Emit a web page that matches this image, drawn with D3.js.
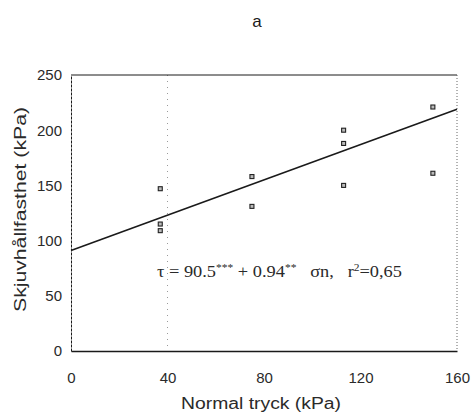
<!DOCTYPE html>
<html>
<head>
<meta charset="utf-8">
<script src="https://cdn.jsdelivr.net/npm/d3@7"></script>
<style>
  html, body { margin: 0; padding: 0; background: #fff; }
  svg { display: block; }
</style>
</head>
<body>
<svg id="chart" width="474" height="418"></svg>
<script>
// ---- data ----
const xTicks = [0, 40, 80, 120, 160];
const yTicks = [0, 50, 100, 150, 200, 250];
const normalTryck = [37, 37, 37, 75, 75, 113, 113, 113, 150, 150];
const skjuvhallfasthet = [147, 115, 109, 158, 131, 200, 188, 150, 221, 161];
const lineX = [0, 160];
const lineY = [91, 219];
const panelTitle = "a";
const xTitle = "Normal tryck (kPa)";
const yTitle = "Skjuvhållfasthet (kPa)";

// ---- layout ----
const svg = d3.select("#chart");
const L = 71, R = 457, T = 75, B = 351;
const x = d3.scaleLinear().domain([0, 160]).range([L, R]);
const y = d3.scaleLinear().domain([0, 250]).range([B, T]);
const ink = "#1a1a1a";

// title
svg.append("text").attr("x", 257).attr("y", 27)
  .attr("text-anchor", "middle")
  .attr("font-family", "Liberation Sans, Arial, sans-serif")
  .attr("font-size", 17).attr("fill", ink).text(panelTitle);

// faint dotted vertical line at x=40 (as in the scan)
svg.append("line")
  .attr("x1", x(40)).attr("x2", x(40)).attr("y1", T).attr("y2", B)
  .attr("stroke", "#9a9a9a").attr("stroke-width", 1)
  .attr("stroke-dasharray", "1,5");

// frame
svg.append("line").attr("x1", L).attr("x2", R).attr("y1", T).attr("y2", T)
  .attr("stroke", ink).attr("stroke-width", 1);
svg.append("line").attr("x1", R).attr("x2", R).attr("y1", T).attr("y2", B)
  .attr("stroke", "#666").attr("stroke-width", 1).attr("stroke-dasharray", "1,2");

// axes
const xAxis = svg.append("g").attr("transform", `translate(0,${B})`)
  .call(d3.axisBottom(x).tickValues(xTicks).tickSize(0).tickPadding(21));
const yAxis = svg.append("g").attr("transform", `translate(${L},0)`)
  .call(d3.axisLeft(y).tickValues(yTicks).tickSize(0).tickPadding(9));
[xAxis, yAxis].forEach(g => {
  g.selectAll(".domain").attr("stroke", ink).attr("stroke-width", 1);
  g.selectAll("text")
    .attr("font-family", "Liberation Sans, Arial, sans-serif")
    .attr("font-size", 15).attr("fill", "#2a2a2a");
});
xAxis.select(".domain").attr("stroke-width", 1.6);
yAxis.select(".domain").attr("stroke-dasharray", "3,1");

// axis titles
svg.append("text")
  .attr("x", 181).attr("y", 409)
  .attr("font-family", "Liberation Sans, Arial, sans-serif")
  .attr("font-size", 16).attr("fill", "#2a2a2a")
  .attr("textLength", 160).attr("lengthAdjust", "spacingAndGlyphs")
  .text(xTitle);
svg.append("text")
  .attr("transform", "translate(26,312) rotate(-90)")
  .attr("font-family", "Liberation Sans, Arial, sans-serif")
  .attr("font-size", 16).attr("fill", "#2a2a2a")
  .attr("textLength", 205).attr("lengthAdjust", "spacingAndGlyphs")
  .text(yTitle);

// regression line
svg.append("path")
  .datum(lineX.map((v, i) => [v, lineY[i]]))
  .attr("d", d3.line().x(d => x(d[0])).y(d => y(d[1])))
  .attr("fill", "none").attr("stroke", ink).attr("stroke-width", 1.6);

// points
svg.append("g").selectAll("rect")
  .data(normalTryck.map((v, i) => [v, skjuvhallfasthet[i]]))
  .join("rect")
  .attr("x", d => x(d[0]) - 2).attr("y", d => y(d[1]) - 2)
  .attr("width", 4).attr("height", 4)
  .attr("fill", "#bbb").attr("stroke", "#222").attr("stroke-width", 1.1);

// equation
const eq = svg.append("text")
  .attr("x", 157).attr("y", 277)
  .attr("font-family", "Liberation Serif, Times New Roman, serif")
  .attr("font-size", 16).attr("fill", "#2a2a2a")
  .attr("textLength", 245).attr("lengthAdjust", "spacingAndGlyphs");
eq.append("tspan").text("τ = 90.5");
eq.append("tspan").attr("dy", -6).attr("font-size", 10).text("***");
eq.append("tspan").attr("dy", 6).text(" + 0.94");
eq.append("tspan").attr("dy", -6).attr("font-size", 10).text("**");
eq.append("tspan").attr("dy", 6).html("\u00a0\u00a0 σn,\u00a0\u00a0 r");
eq.append("tspan").attr("dy", -6).attr("font-size", 10).text("2");
eq.append("tspan").attr("dy", 6).text("=0,65");
</script>
</body>
</html>
